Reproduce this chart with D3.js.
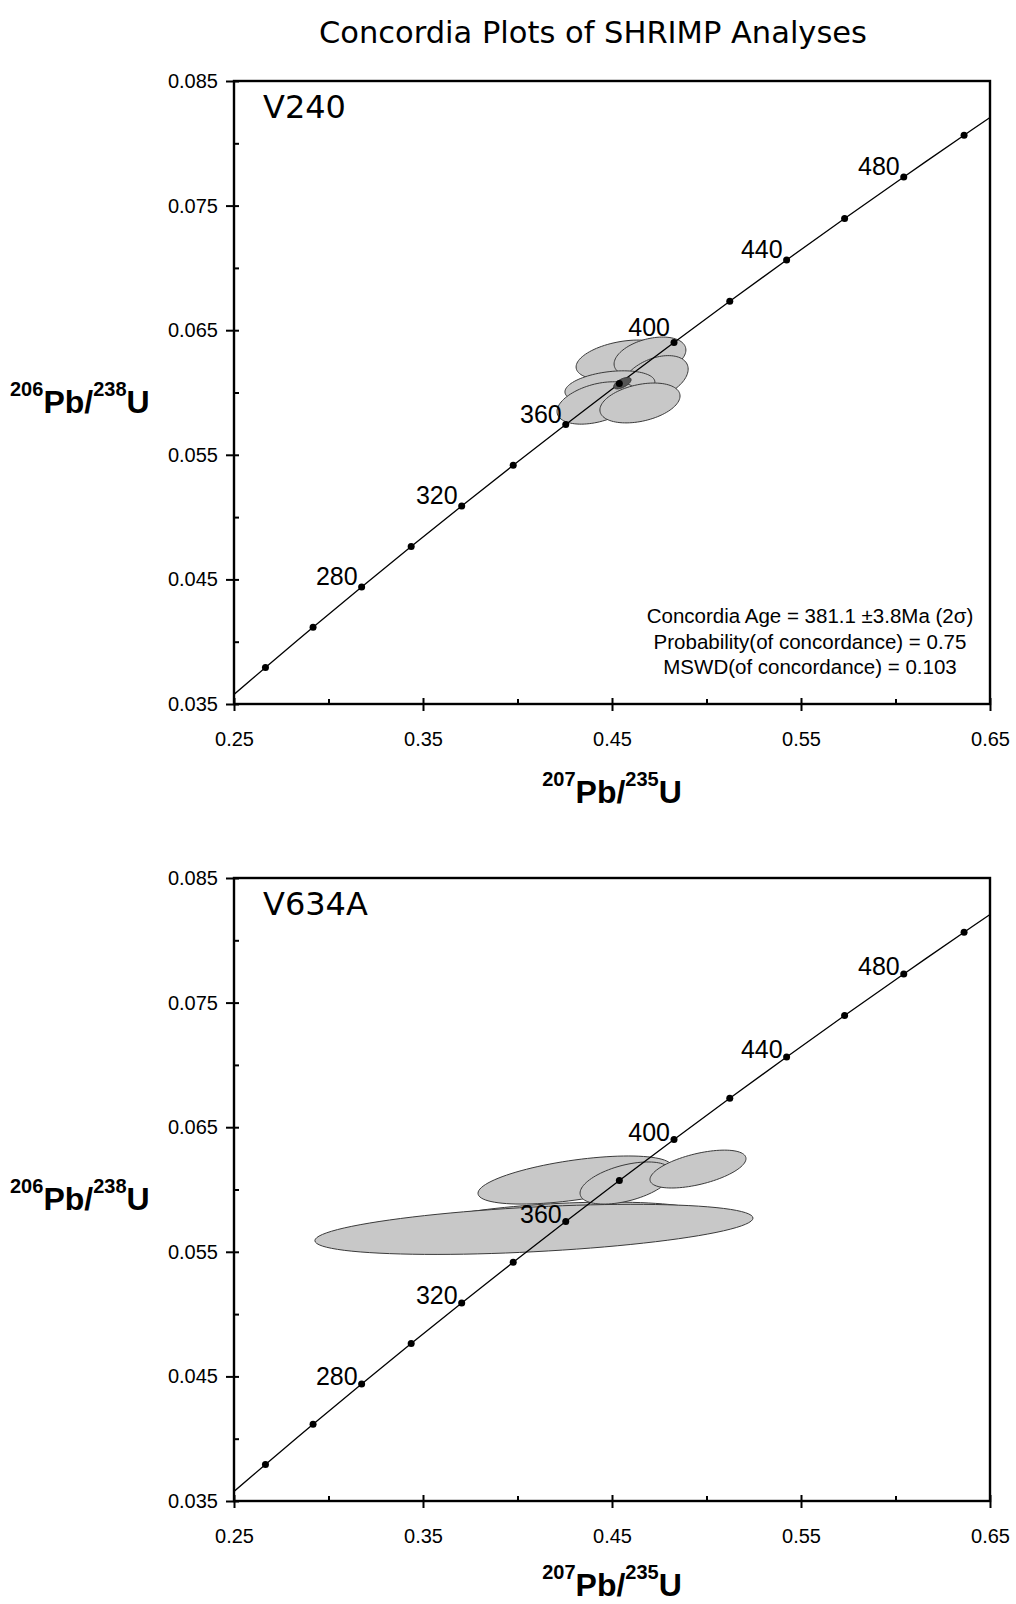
<!DOCTYPE html>
<html>
<head>
<meta charset="utf-8">
<title>Concordia Plots of SHRIMP Analyses</title>
<script src="https://cdn.jsdelivr.net/npm/d3@7"></script>
<style>
    html, body { margin: 0; padding: 0; background: #fff; }
    svg { display: block; }
    .tick text { font-family: "Liberation Sans", Arial, sans-serif; font-size: 20px; fill: #000; }
</style>
</head>
<body>
<div id="chart"></div>
<script>
'use strict';

/* Concordia plots, two SHRIMP samples stacked vertically */

// ---- data ----
const titleText = 'Concordia Plots of SHRIMP Analyses';

const xTicks = [0.25, 0.35, 0.45, 0.55, 0.65];
const xMinorTicks = [0.30, 0.40, 0.50, 0.60];
const yTicks = [0.035, 0.045, 0.055, 0.065, 0.075, 0.085];
const yMinorTicks = [0.040, 0.050, 0.060, 0.070, 0.080];

// Concordia curve (Ma, 207Pb/235U, 206Pb/238U); first and last points are the plot edges
const curveAge = [226.6, 240, 260, 280, 300, 320, 340, 360, 380, 400, 420, 440, 460, 480, 500, 508.5];
const curveX = [0.25, 0.26664, 0.29183, 0.31753, 0.34374, 0.37047, 0.39773, 0.42553, 0.45389,
                0.48281, 0.51231, 0.54239, 0.57307, 0.60437, 0.63628, 0.65];
const curveY = [0.03577, 0.03793, 0.04116, 0.04439, 0.04764, 0.05089, 0.05416, 0.05743, 0.06072,
                0.06401, 0.06732, 0.07064, 0.07396, 0.07730, 0.08065, 0.08207];
const labelAges = [280, 320, 360, 400, 440, 480];

// Error ellipses: [x, y, x half-width, y half-width, correlation]
const v240Ellipses = [
    [0.4553, 0.06261, 0.0243, 0.00160, 0.35],
    [0.4701, 0.06285, 0.0190, 0.00160, 0.35],
    [0.4728, 0.06116, 0.0175, 0.00180, 0.40],
    [0.4489, 0.06044, 0.0238, 0.00130, 0.30],
    [0.4421, 0.05916, 0.0212, 0.00170, 0.40],
    [0.4648, 0.05916, 0.0212, 0.00160, 0.35]
];
const v240AgeEllipse = [0.4555, 0.06075, 0.0046, 0.00046, 0.6];
const v240Stats = [
    'Concordia Age = 381.1 \u00B13.8Ma (2\u03C3)',
    'Probability(of concordance) = 0.75',
    'MSWD(of concordance) = 0.103'
];

const v634aEllipses = [
    [0.4225, 0.05739, 0.0767, 0.00160, 0.35],
    [0.4087, 0.05680, 0.1159, 0.00201, 0.45],
    [0.4304, 0.06076, 0.0513, 0.00193, 0.55],
    [0.4574, 0.06052, 0.0243, 0.00169, 0.48],
    [0.4955, 0.06164, 0.0254, 0.00152, 0.55]
];

// ---- layout ----
const width = 1016, height = 1604;
const xLeft = 234, xRight = 990;

const panels = [
    { name: 'V240', top: 81, bottom: 704, ellipses: v240Ellipses, ageEllipse: v240AgeEllipse,
      stats: v240Stats, labelDy: -2, nudge: { 400: -5 } },
    { name: 'V634A', top: 878, bottom: 1501, ellipses: v634aEllipses, ageEllipse: null,
      stats: null, labelDy: 1, nudge: {} }
];

const svg = d3.select('#chart').append('svg')
    .attr('width', width)
    .attr('height', height);

svg.append('text')
    .attr('x', 593)
    .attr('y', 43)
    .attr('text-anchor', 'middle')
    .style('font-family', '"DejaVu Sans", sans-serif')
    .style('font-size', '30.5px')
    .text(titleText);

const x = d3.scaleLinear().domain([0.25, 0.65]).range([xLeft, xRight]);

// Ellipse outline from centre, half-widths and correlation
function ellipsePoints(e, y){
    const [cx, cy, sx, sy, rho] = e;
    const k = Math.sqrt(1 - rho * rho);
    return d3.range(0, 96).map(i => {
        const t = i / 96 * 2 * Math.PI;
        return [x(cx + sx * Math.cos(t)), y(cy + sy * (rho * Math.cos(t) + k * Math.sin(t)))];
    });
}

function drawPanel(p){
    const y = d3.scaleLinear().domain([0.035, 0.085]).range([p.bottom, p.top]);
    const g = svg.append('g').classed('panel', true);

    // clip so the curve stops at the frame
    const clipId = 'clip-' + p.name;
    g.append('clipPath').attr('id', clipId)
        .append('rect')
        .attr('x', xLeft).attr('y', p.top)
        .attr('width', xRight - xLeft).attr('height', p.bottom - p.top);

    const plot = g.append('g').attr('clip-path', `url(#${clipId})`);

    // error ellipses
    const ellLine = d3.line().curve(d3.curveLinearClosed);
    plot.selectAll('path.ellipse')
        .data(p.ellipses)
        .join('path')
        .classed('ellipse', true)
        .attr('d', d => ellLine(ellipsePoints(d, y)))
        .attr('fill', '#c8c8c8')
        .attr('stroke', '#3a3a3a')
        .attr('stroke-width', 1);

    // concordia curve
    const curve = d3.line()
        .x(d => x(curveX[d]))
        .y(d => y(curveY[d]))
        .curve(d3.curveCatmullRom);

    plot.append('path')
        .attr('d', curve(d3.range(curveAge.length)))
        .attr('fill', 'none')
        .attr('stroke', '#000')
        .attr('stroke-width', 1.3);

    if (p.ageEllipse){
        plot.append('path')
            .attr('d', ellLine(ellipsePoints(p.ageEllipse, y)))
            .attr('fill', '#555')
            .attr('stroke', '#333')
            .attr('stroke-width', 1);
    }

    // age markers (skip the two edge points)
    const markIdx = d3.range(1, curveAge.length - 1);
    plot.selectAll('circle.age')
        .data(markIdx)
        .join('circle')
        .classed('age', true)
        .attr('cx', i => x(curveX[i]))
        .attr('cy', i => y(curveY[i]))
        .attr('r', 3.5)
        .attr('fill', '#000');

    g.selectAll('text.age')
        .data(markIdx.filter(i => labelAges.includes(curveAge[i])))
        .join('text')
        .classed('age', true)
        .attr('x', i => x(curveX[i]) - 4)
        .attr('y', i => y(curveY[i]) + p.labelDy + (p.nudge[curveAge[i]] || 0))
        .attr('text-anchor', 'end')
        .style('font-family', '"Liberation Sans", Arial, sans-serif')
        .style('font-size', '25px')
        .text(i => curveAge[i]);

    // axes: outward major ticks, inward major + minor ticks
    const xAxisG = g.append('g').attr('transform', `translate(0,${p.bottom})`);
    xAxisG.call(d3.axisBottom(x).tickValues(xTicks).tickSize(7).tickSizeOuter(0)
        .tickPadding(21).tickFormat(d3.format('.2f')));
    xAxisG.append('g').call(d3.axisBottom(x).tickValues(xTicks).tickSize(-6).tickFormat(''));
    xAxisG.append('g').call(d3.axisBottom(x).tickValues(xMinorTicks).tickSize(-5).tickFormat(''));

    const yAxisG = g.append('g').attr('transform', `translate(${xLeft},0)`);
    yAxisG.call(d3.axisLeft(y).tickValues(yTicks).tickSize(8).tickSizeOuter(0)
        .tickPadding(8).tickFormat(d3.format('.3f')));
    yAxisG.append('g').call(d3.axisLeft(y).tickValues(yTicks).tickSize(-5).tickFormat(''));
    yAxisG.append('g').call(d3.axisLeft(y).tickValues(yMinorTicks).tickSize(-5).tickFormat(''));

    g.selectAll('.domain').remove();
    g.selectAll('.tick line').attr('stroke', '#000').attr('stroke-width', 2);

    // frame
    g.append('rect')
        .attr('x', xLeft).attr('y', p.top)
        .attr('width', xRight - xLeft).attr('height', p.bottom - p.top)
        .attr('fill', 'none')
        .attr('stroke', '#000')
        .attr('stroke-width', 2.4);

    // sample name
    g.append('text')
        .attr('x', 263)
        .attr('y', p.top + 37)
        .style('font-family', '"DejaVu Sans", sans-serif')
        .style('font-size', '32px')
        .text(p.name);

    if (p.stats){
        g.append('g').selectAll('text')
            .data(p.stats)
            .join('text')
            .attr('x', 810)
            .attr('y', (d, i) => 623 + i * 25.5)
            .attr('text-anchor', 'middle')
            .style('font-family', '"Liberation Sans", Arial, sans-serif')
            .style('font-size', '20.5px')
            .text(d => d);
    }

    // axis titles with isotope superscripts; y is the baseline of the big letters
    const isoLabel = (sel, parts) => {
        parts.forEach(([txt, sup]) => {
            sel.append('tspan')
                .attr('font-size', sup ? 20 : 32)
                .attr('dy', sup ? -17 : 17)
                .text(txt);
        });
    };

    const yTitle = g.append('text')
        .attr('x', 10)
        .attr('y', (p.top + p.bottom) / 2 + 20)
        .style('font-family', '"Liberation Sans", Arial, sans-serif')
        .style('font-weight', 'bold');
    isoLabel(yTitle, [['206', true], ['Pb/', false], ['238', true], ['U', false]]);

    // keep the lower title inside the page (its font box must not run past the edge)
    const xTitle = g.append('text')
        .attr('x', 612)
        .attr('y', Math.min(p.bottom + 99, height - 8))
        .attr('text-anchor', 'middle')
        .style('font-family', '"Liberation Sans", Arial, sans-serif')
        .style('font-weight', 'bold');
    isoLabel(xTitle, [['207', true], ['Pb/', false], ['235', true], ['U', false]]);
}

panels.forEach(drawPanel);
</script>
</body>
</html>
